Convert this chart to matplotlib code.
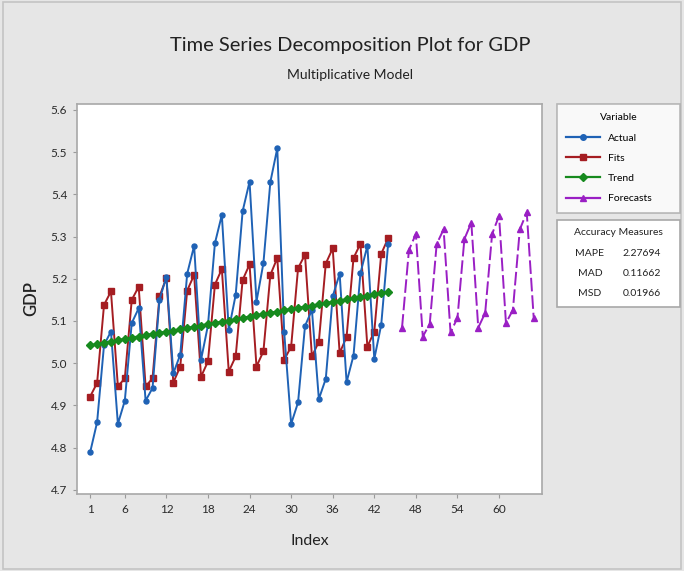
import matplotlib
matplotlib.use('Agg')
import matplotlib.pyplot as plt
from matplotlib.lines import Line2D
from matplotlib.patches import Rectangle

plt.rcParams['font.family'] = ['Lato', 'DejaVu Sans']

# observed series, quarters 1..44
index_actual = list(range(1, 45))
actual = [4.789, 4.860, 5.043, 5.075, 4.856, 4.911, 5.095, 5.130,
          4.911, 4.941, 5.150, 5.205, 4.976, 5.020, 5.212, 5.278,
          5.008, 5.090, 5.284, 5.351, 5.079, 5.162, 5.360, 5.430,
          5.146, 5.237, 5.429, 5.509, 5.073, 4.856, 4.907, 5.088,
          5.126, 4.915, 4.963, 5.158, 5.212, 4.955, 5.018, 5.213,
          5.278, 5.010, 5.091, 5.283]

fits = [4.921, 4.953, 5.138, 5.170, 4.945, 4.964, 5.150, 5.181,
        4.945, 4.964, 5.158, 5.202, 4.954, 4.992, 5.172, 5.209,
        4.968, 5.004, 5.186, 5.223, 4.980, 5.016, 5.197, 5.234,
        4.992, 5.028, 5.209, 5.249, 5.008, 5.039, 5.225, 5.257,
        5.016, 5.051, 5.236, 5.272, 5.024, 5.062, 5.249, 5.283,
        5.039, 5.075, 5.259, 5.296]

trend = [5.042, 5.045, 5.048, 5.051, 5.054, 5.057, 5.060, 5.063,
         5.066, 5.069, 5.072, 5.074, 5.077, 5.080, 5.083, 5.086,
         5.089, 5.092, 5.095, 5.098, 5.101, 5.104, 5.107, 5.110,
         5.113, 5.116, 5.119, 5.122, 5.125, 5.128, 5.131, 5.133,
         5.136, 5.139, 5.142, 5.145, 5.148, 5.151, 5.154, 5.157,
         5.160, 5.163, 5.166, 5.169]

index_forecast = list(range(46, 66))
forecasts = [5.084, 5.268, 5.306, 5.063, 5.093, 5.282, 5.317, 5.073,
             5.107, 5.294, 5.333, 5.084, 5.119, 5.306, 5.349, 5.095,
             5.126, 5.317, 5.357, 5.108]

measures = [('MAPE', '2.27694'), ('MAD', '0.11662'), ('MSD', '0.01966')]

xticks = [1, 6, 12, 18, 24, 30, 36, 42, 48, 54, 60]
yticks = [4.7, 4.8, 4.9, 5.0, 5.1, 5.2, 5.3, 5.4, 5.5, 5.6]

c_actual = '#1f62b5'
c_fits = '#a51d22'
c_trend = '#168a1e'
c_fc = '#9a1fc4'
bg = '#e6e6e6'

fig = plt.figure(figsize=(6.84, 5.71), dpi=100)
fig.patch.set_facecolor(bg)
fig.patches.append(Rectangle((0.004, 0.004), 0.992, 0.992, transform=fig.transFigure,
                             fill=False, edgecolor='#c4c4c4', linewidth=1.2))

ax = fig.add_axes([77 / 684, 1 - 494 / 571, 465 / 684, 390 / 571])
ax.set_facecolor('white')

ax.plot(index_actual, actual, '-o', color=c_actual, lw=1.4, ms=3.6, zorder=3)
ax.plot(index_actual, fits, '-s', color=c_fits, lw=1.4, ms=4.2, zorder=2)
ax.plot(index_actual, trend, '-D', color=c_trend, lw=1.8, ms=3.8, zorder=4)
ax.plot(index_forecast, forecasts, '^', color=c_fc, ls=(0, (7, 2)), lw=1.4, ms=5, zorder=3)

ax.set_xlim(-0.9, 66.2)
ax.set_ylim(4.69, 5.614)
ax.set_xticks(xticks)
ax.set_yticks(yticks)
ax.set_yticklabels(['{:.1f}'.format(v) for v in yticks])
ax.tick_params(axis='both', direction='out', length=3, width=0.8, color='#9a9a9a',
               labelsize=8.5, labelcolor='#2a2a2a', pad=4)
for sp in ax.spines.values():
    sp.set_color('#a8a8a8')
    sp.set_linewidth(1.2)

ax.set_xlabel('Index', fontsize=11.5, color='#222222', labelpad=14)
ax.set_ylabel('GDP', fontsize=12, fontweight='semibold', color='#222222', labelpad=8)

fig.text(350 / 684, 1 - 45 / 571, 'Time Series Decomposition Plot for GDP',
         ha='center', va='center', fontsize=14.5, color='#222222')
fig.text(350 / 684, 1 - 75 / 571, 'Multiplicative Model',
         ha='center', va='center', fontsize=10, color='#222222')

# variable legend
handles = [Line2D([], [], color=c_actual, marker='o', lw=1.6, ms=4),
           Line2D([], [], color=c_fits, marker='s', lw=1.6, ms=4.5),
           Line2D([], [], color=c_trend, marker='D', lw=1.6, ms=4),
           Line2D([], [], color=c_fc, marker='^', lw=1.6, ms=5)]
leg = fig.legend(handles, ['Actual', 'Fits', 'Trend', 'Forecasts'], title='Variable',
                 loc='upper left', bbox_to_anchor=(557 / 684, 0, 123 / 684, 1 - 104 / 571),
                 mode='expand', borderaxespad=0, fontsize=7.5, title_fontsize=7.5,
                 frameon=True, fancybox=False, edgecolor='#a8a8a8', handlelength=3.2,
                 labelspacing=1.05, borderpad=0.9)
leg.get_frame().set_linewidth(1.2)

# accuracy measures box
fig.patches.append(Rectangle((557 / 684, 1 - 307 / 571), 123 / 684, 87 / 571,
                             transform=fig.transFigure, facecolor='white',
                             edgecolor='#a8a8a8', linewidth=1.2))
fig.text(618 / 684, 1 - 233 / 571, 'Accuracy Measures', ha='center', va='center',
         fontsize=7.5, color='#222222')
for k, (name, val) in enumerate(measures):
    y = 1 - (253 + 20 * k) / 571
    fig.text(590 / 684, y, name, ha='center', va='center', fontsize=7.5, color='#222222')
    fig.text(642 / 684, y, val, ha='center', va='center', fontsize=7.5, color='#222222')

fig.savefig('out.png', dpi=100, facecolor=bg)
